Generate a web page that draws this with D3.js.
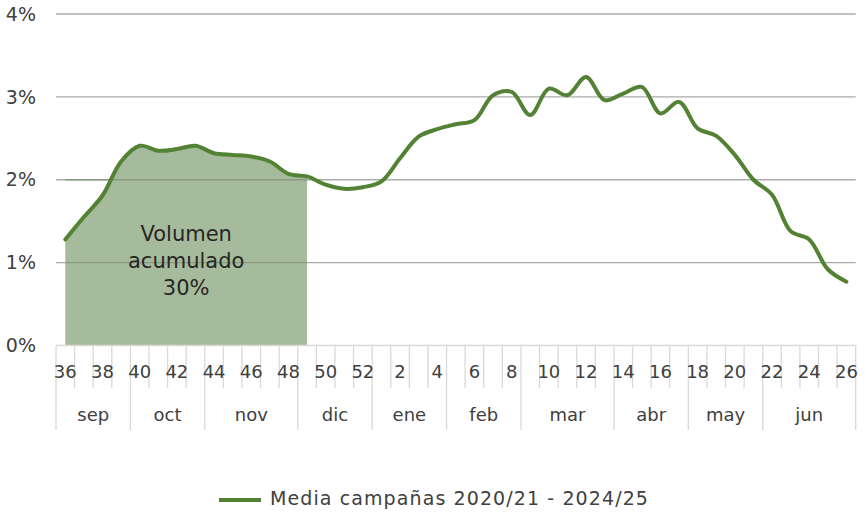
<!DOCTYPE html>
<html><head><meta charset="utf-8">
<script src="https://cdn.jsdelivr.net/npm/d3@7"></script>
<style>
body{margin:0;background:#fff;}
text{font-family:"DejaVu Sans",sans-serif;fill:#404040;}
</style></head>
<body><svg id="c" width="866" height="512"></svg>
<script>
const weeks = [36,37,38,39,40,41,42,43,44,45,46,47,48,49,50,51,52,1,2,3,4,5,6,7,8,9,10,11,12,13,14,15,16,17,18,19,20,21,22,23,24,25,26];
const values = [1.28,1.55,1.81,2.22,2.41,2.35,2.37,2.41,2.32,2.30,2.28,2.22,2.07,2.04,1.94,1.89,1.91,1.98,2.26,2.52,2.61,2.67,2.72,3.02,3.06,2.78,3.10,3.02,3.24,2.96,3.04,3.12,2.80,2.94,2.62,2.53,2.30,2.00,1.82,1.38,1.28,0.92,0.77];
const months = ["sep","oct","nov","dic","ene","feb","mar","abr","may","jun"];
const monthWeeks = [4,4,5,4,4,4,5,4,4,5];
const yTicks = [0,1,2,3,4];
const areaLastWeek = 49;
const areaLabel = ["Volumen","acumulado","30%"];
const seriesName = "Media campañas 2020/21 - 2024/25";

const svg = d3.select("#c");
const x = d3.scaleBand().domain(d3.range(weeks.length)).range([56, 855.7]).padding(0);
const y = d3.scaleLinear().domain([0,4]).range([345.5, 14]);
const cx = i => x(i) + x.bandwidth()/2;

// gridlines
svg.append("g").selectAll("line").data(yTicks.filter(t=>t>0)).join("line")
  .attr("x1",56).attr("x2",855.7).attr("y1",d=>y(d)).attr("y2",d=>y(d))
  .attr("stroke","#ababab").attr("stroke-width",1.3);

// y labels
svg.append("g").selectAll("text").data(yTicks).join("text")
  .attr("x",36).attr("y",d=>y(d)).attr("dy","0.35em").attr("text-anchor","end")
  .style("font-size","19px").text(d=>d+"%");

// area
const areaEnd = weeks.indexOf(areaLastWeek);
const areaData = values.slice(0, areaEnd+1).map((v,i)=>({i,v}));
const curve = d3.curveCatmullRom.alpha(0.5);
svg.append("path").datum(areaData)
  .attr("d", d3.area().x(d=>cx(d.i)).y0(y(0)).y1(d=>y(d.v)).curve(curve))
  .attr("fill","#a6bb9b");

// gridlines seen through the area
svg.append("g").selectAll("line").data(yTicks.filter(t=>t>0 && t<=2)).join("line")
  .attr("x1",cx(0)).attr("x2",cx(areaEnd)).attr("y1",d=>y(d)).attr("y2",d=>y(d))
  .attr("stroke","#8a9a82").attr("stroke-width",1.3);

// x axis line & category ticks
const ax = svg.append("g");
ax.append("line").attr("x1",56).attr("x2",855.7).attr("y1",y(0)).attr("y2",y(0))
  .attr("stroke","#d9d9d9").attr("stroke-width",1.3);
ax.selectAll("line.t").data(d3.range(weeks.length+1)).join("line").attr("class","t")
  .attr("x1",i=> i<weeks.length ? x(i) : 855.7).attr("x2",i=> i<weeks.length ? x(i) : 855.7)
  .attr("y1",y(0)).attr("y2",388).attr("stroke","#d9d9d9").attr("stroke-width",1.3);
let acc=0; const bounds=[0];
monthWeeks.forEach(n=>{acc+=n; bounds.push(acc);});
ax.selectAll("line.m").data(bounds).join("line").attr("class","m")
  .attr("x1",i=> i<weeks.length ? x(i) : 855.7).attr("x2",i=> i<weeks.length ? x(i) : 855.7)
  .attr("y1",388).attr("y2",430).attr("stroke","#d9d9d9").attr("stroke-width",1.3);

ax.selectAll("text.w").data(weeks.map((w,i)=>({w,i})).filter(d=>d.w%2===0)).join("text").attr("class","w")
  .attr("x",d=>cx(d.i)).attr("y",372).attr("dy","0.35em").attr("text-anchor","middle")
  .style("font-size","18px").text(d=>d.w);
ax.selectAll("text.mo").data(months.map((m,k)=>({m,k}))).join("text").attr("class","mo")
  .attr("x",d=>{const a=x(bounds[d.k]); const b= bounds[d.k+1]<weeks.length? x(bounds[d.k+1]) : 855.7; return (a+b)/2;})
  .attr("y",415).attr("dy","0.35em").attr("text-anchor","middle")
  .style("font-size","18px").text(d=>d.m);

// line
svg.append("path").datum(values.map((v,i)=>({i,v})))
  .attr("d", d3.line().x(d=>cx(d.i)).y(d=>y(d.v)).curve(curve))
  .attr("fill","none").attr("stroke","#548235").attr("stroke-width",4).attr("stroke-linecap","round");

// area label
const lx = (cx(0)+cx(areaEnd))/2;
svg.append("g").selectAll("text").data(areaLabel).join("text")
  .attr("x",lx).attr("y",(d,k)=>234+k*27).attr("dy","0.35em").attr("text-anchor","middle")
  .style("font-size","21px").style("fill","#262626").text(d=>d);

// legend
const lg = svg.append("g");
lg.append("line").attr("x1",219).attr("x2",261).attr("y1",500).attr("y2",500)
  .attr("stroke","#548235").attr("stroke-width",4);
lg.append("text").attr("x",270).attr("y",498).attr("dy","0.35em").style("font-size","19px")
  .style("letter-spacing","1.1px").text(seriesName);
</script></body></html>
